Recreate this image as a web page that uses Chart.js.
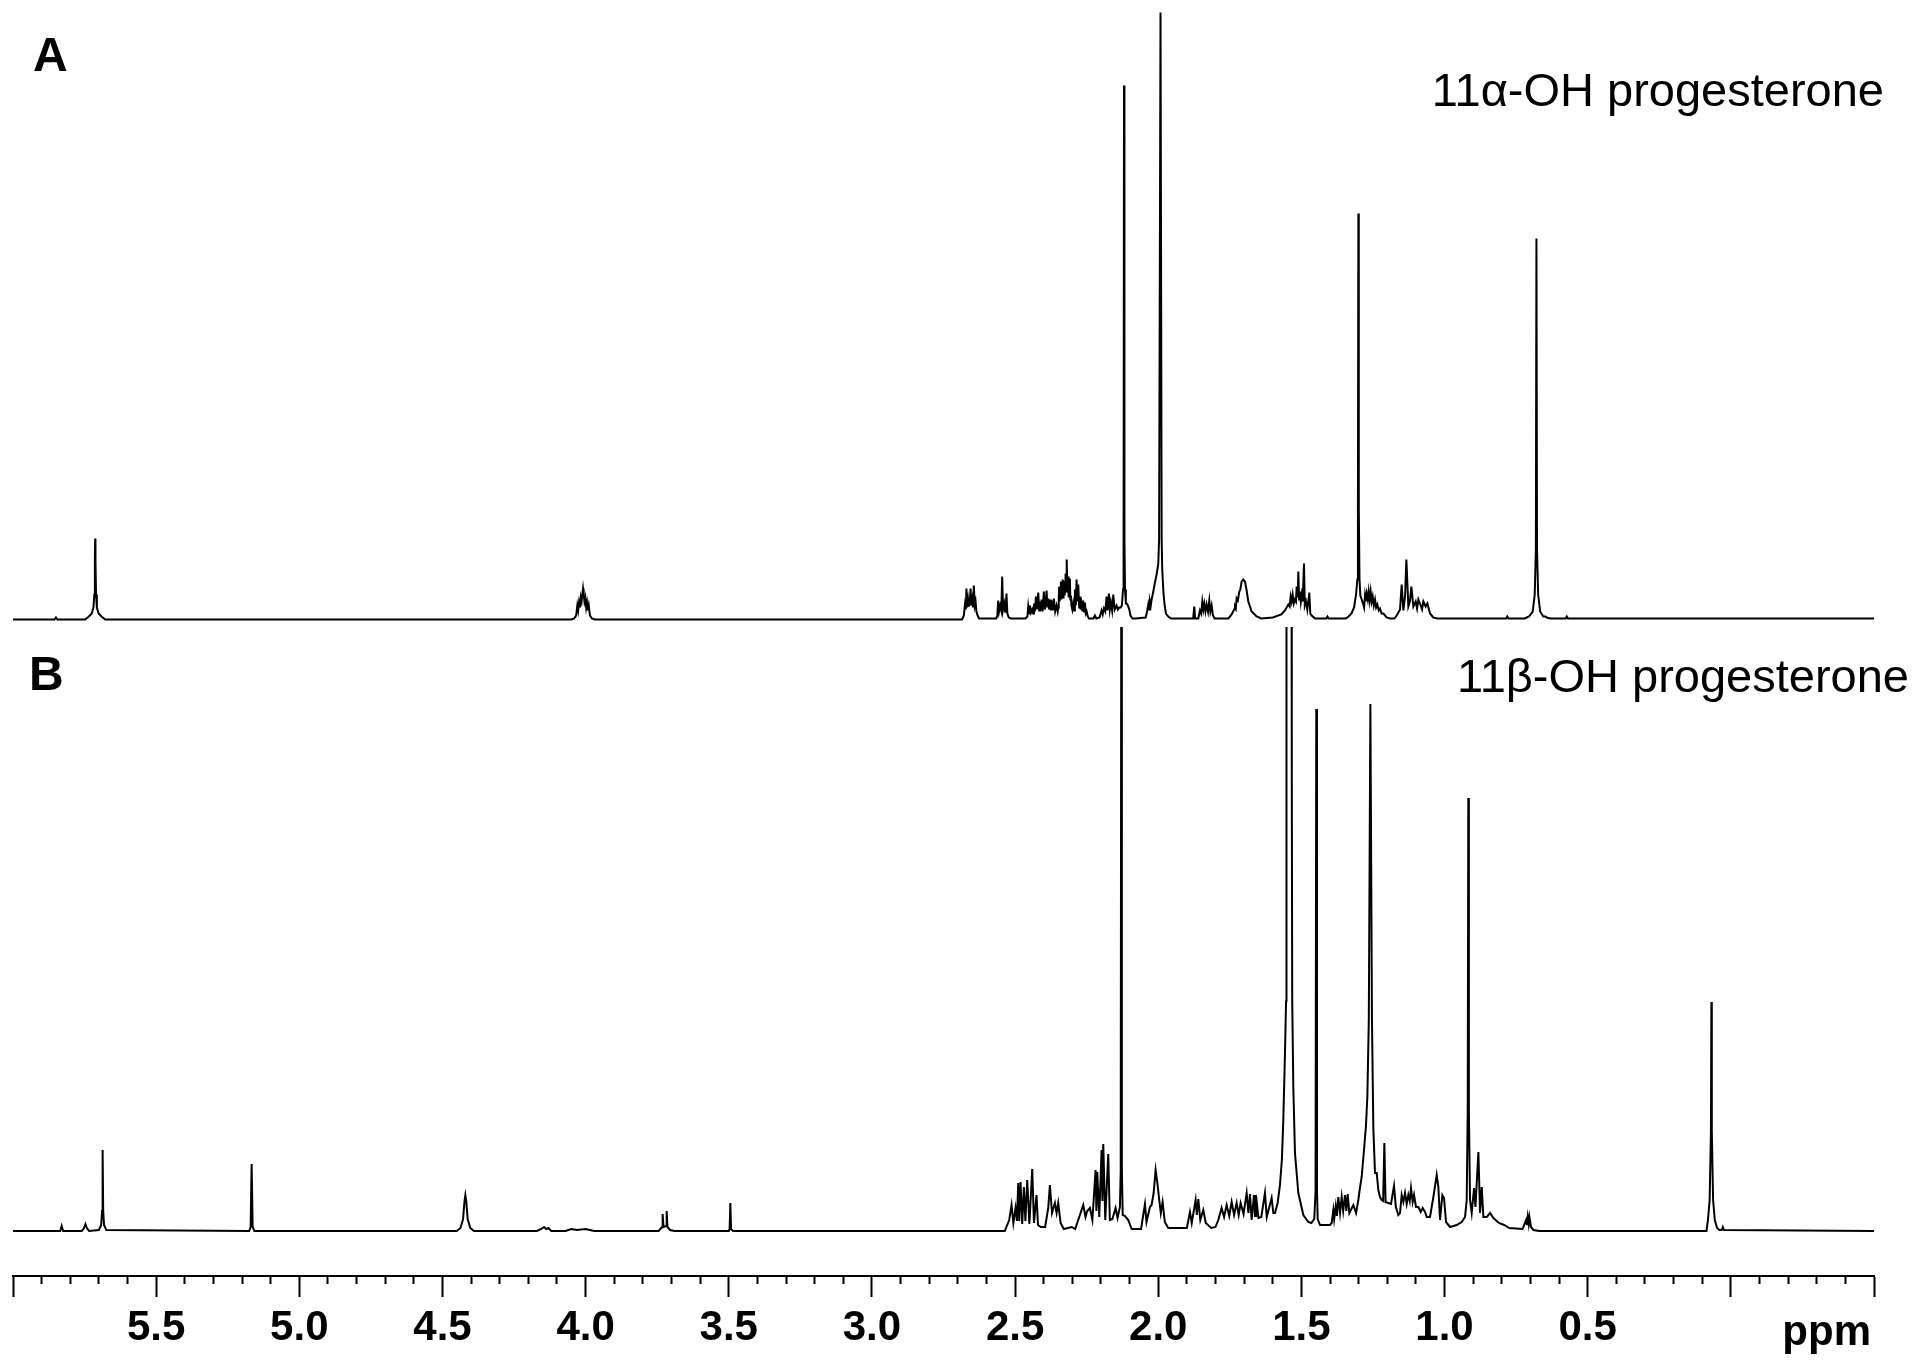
<!DOCTYPE html>
<html>
<head>
<meta charset="utf-8">
<title>1H NMR 11α / 11β-OH progesterone</title>
<script src="https://cdn.jsdelivr.net/npm/chart.js@4.4.1/dist/chart.umd.min.js"></script>
<style>
  html, body { margin: 0; padding: 0; background: #fff; }
  canvas { display: block; }
</style>
</head>
<body>
<canvas id="nmr" width="1920" height="1369"></canvas>
<script>
// spectrum A (11a-OH progesterone), [ppm, intensity]
const olefinA = [[6.0,0],[5.855,0],[5.85,2],[5.845,0],
  [5.748,0],[5.735,3],[5.725,6],[5.719,12],[5.716,25],[5.714,60],[5.713,81],[5.712,60],[5.71,25],[5.707,12],[5.701,6],[5.691,3],[5.678,0]];
const h11A = [[4.05,0],[4.04,1],[4.033,4],[4.029,14],[4.026,9],[4.023,17],[4.02,12],[4.017,22],[4.014,18],[4.011,26],[4.009,31],
  [4.007,26],[4.004,18],[4.001,22],[3.998,12],[3.995,17],[3.992,9],[3.989,14],[3.985,4],[3.978,1],[3.968,0]];
const multA1 = [[2.685,0],[2.679,4],[2.675,15],[2.672,10],[2.67,31],[2.667,12],[2.664,20],[2.661,13],[2.658,18],[2.6555,31],[2.653,14],
  [2.65,20],[2.647,12],[2.644,34],[2.641,14],[2.638,18],[2.635,8],[2.631,4],[2.626,1],
  [2.566,1],[2.562,4],[2.559,19],[2.556,8],[2.552,14],[2.548,9],[2.545,43],[2.542,10],[2.538,16],[2.534,7],[2.53,26],[2.527,6],[2.522,2],[2.515,1],
  [2.464,1],[2.457,3],[2.454,13],[2.451,6],[2.448,14],[2.444,7],[2.44,10],[2.437,6],[2.434,16],[2.431,8],[2.427,23],[2.424,10],[2.419,27],
  [2.416,9],[2.413,18],[2.41,9],[2.4075,20],[2.404,8],[2.3995,28],[2.396,10],[2.393,16],[2.39,29],[2.387,12],[2.384,21],[2.381,10],
  [2.378,20],[2.375,9],[2.3715,19],[2.368,9],[2.3645,21],[2.36,8],[2.355,14],[2.351,8],
  [2.349,12],[2.3475,22],[2.3458,33],[2.3445,18],[2.342,30],[2.34,38],[2.3385,20],[2.336,35],[2.334,40],[2.332,22],[2.3305,34],[2.3283,39],
  [2.3265,24],[2.325,38],[2.3236,46],[2.322,28],[2.3205,40],[2.319,60],[2.3175,30],[2.316,38],[2.3143,43],[2.313,22],[2.311,30],[2.3085,41],
  [2.307,20],[2.305,24],[2.303,14],
  [2.3,10],[2.297,16],[2.294,9],[2.291,30],[2.288,14],[2.2852,40],[2.282,18],[2.2794,35],[2.276,12],[2.2736,23],[2.271,10],[2.268,16],
  [2.265,8],[2.262,19],[2.259,8],[2.256,17],[2.253,6],[2.25,8],[2.246,3],[2.242,1],
  [2.226,1],[2.2212,4],[2.216,1],[2.205,2],[2.1978,9],[2.194,5],[2.1897,11],[2.185,8],[2.1804,23],[2.177,9],[2.1722,26],[2.169,10],
  [2.1653,17],[2.161,9],[2.1571,25],[2.152,10],[2.1455,14],[2.141,10],[2.136,12],[2.131,12]];
const methylA = [[2.127,14],[2.123,30],[2.121,80],[2.1195,534],[2.118,80],[2.116,30],[2.113,16],[2.11,16],[2.106,14],[2.101,10],[2.097,4],
  [2.09,1],[2.08,1],
  [2.044,2],[2.039,8],[2.0348,15],[2.032,10],[2.029,18],[2.026,14],[2.0232,20],[2.02,24],[2.0173,28],[2.0115,37],[2.0057,45],[2.0,55],
  [1.997,80],[1.992,607],[1.988,80],[1.986,50],[1.982,28],[1.978,15],[1.973,6],[1.965,3],[1.955,1]];
const multA2 = [[1.878,1],[1.8741,13],[1.871,1],[1.86,1],[1.8543,9],[1.85,6],[1.8461,18],[1.8425,10],[1.8391,16],[1.835,8],[1.831,15],
  [1.826,8],[1.8217,19],[1.818,8],[1.8135,14],[1.809,4],[1.803,1],
  [1.755,1],[1.7436,5],[1.735,10],[1.732,13],[1.729,11],[1.7262,21],[1.722,19],[1.7168,28],[1.713,30],[1.7087,38],[1.7029,40],
  [1.6971,38],[1.6912,29],[1.6854,18],[1.6738,8],[1.6563,3],[1.64,1],
  [1.6,2],[1.57,5],[1.5573,9],[1.5456,15],[1.541,13],[1.5375,23],[1.534,18],[1.5305,25],[1.5265,16],[1.5224,20],[1.519,18],[1.5165,33],
  [1.513,22],[1.5107,48],[1.508,20],[1.5049,28],[1.502,18],[1.499,25],[1.4955,18],[1.4909,56],[1.488,14],[1.4839,18],[1.4793,10],
  [1.4723,27],[1.469,6],[1.4641,4],[1.4525,1],
  [1.413,1],[1.409,3],[1.405,1],
  [1.345,1],[1.335,3],[1.325,6],[1.316,12],[1.309,25],[1.3045,40],[1.3025,110],[1.301,406],[1.2995,110],[1.297,40],[1.294,24],
  [1.2836,15],[1.281,12],[1.2778,24],[1.275,18],[1.2719,26],[1.268,20],[1.265,28],[1.2615,19],[1.258,28],[1.2545,18],[1.251,23],
  [1.247,14],[1.2428,20],[1.239,12],[1.2347,15],[1.23,9],[1.2254,11],[1.22,6],[1.2137,6],[1.2021,2],[1.1904,1],
  [1.175,1],[1.1671,4],[1.1555,10],[1.1497,35],[1.1438,9],[1.138,23],[1.1333,60],[1.1264,13],[1.121,18],[1.1159,33],[1.1089,13],
  [1.1008,18],[1.096,11],[1.0915,20],[1.0833,14],[1.0785,10],[1.074,18],[1.0659,13],[1.06,16],[1.0507,6],[1.0391,2],[1.025,1]];
const highA = [[0.785,1],[0.781,3],[0.777,1],[0.72,1],[0.705,3],[0.692,8],[0.685,25],[0.681,70],[0.679,381],[0.677,70],[0.673,25],
  [0.666,8],[0.655,3],[0.647,3],[0.643,2],[0.63,1],[0.577,1],[0.573,3],[0.569,1],[-0.5,1]];

// spectrum B (11b-OH progesterone)
const olefinB = [[6.0,0],[5.835,0],[5.83,5],[5.825,0],[5.76,0],[5.752,3],[5.747,7],[5.742,3],[5.734,0],
  [5.7,1],[5.692,6],[5.689,20],[5.687,81],[5.685,20],[5.682,6],[5.674,1],
  [5.175,0],[5.17,4],[5.1665,67],[5.163,4],[5.157,0]];
const midB = [[4.45,0],[4.437,3],[4.428,12],[4.423,30],[4.42,36],[4.417,30],[4.412,12],[4.403,3],[4.39,0],
  [4.17,0],[4.155,2],[4.145,4],[4.138,2],[4.13,3],[4.12,0],[4.07,0],[4.05,2],[4.03,1],[4.0,2],[3.97,0],
  [3.745,0],[3.733,4],[3.731,17],[3.728,4],[3.719,5],[3.717,20],[3.714,4],[3.705,1],[3.69,0],
  [3.5,0],[3.497,2],[3.4945,28],[3.492,2],[3.485,0]];
const multB1 = [[2.536,0],[2.5205,11],[2.5123,26],[2.506,8],[2.4984,23],[2.4935,10],[2.489,48],[2.4855,10],[2.4809,49],[2.475,7],
  [2.4692,44],[2.464,10],[2.4576,51],[2.45,7],[2.4401,62],[2.434,8],[2.425,36],[2.42,6],[2.41,4],[2.395,4],[2.3842,23],[2.3784,46],
  [2.371,18],[2.3609,28],[2.355,18],[2.3493,28],[2.341,8],[2.33,2],[2.302,4],[2.29,2],[2.2678,21],[2.2619,26],[2.254,14],[2.248,20],
  [2.2386,23],[2.23,11],[2.2188,61],[2.216,20],[2.213,59],[2.206,14],[2.1978,81],[2.195,30],[2.192,87],[2.185,11],[2.1746,77],
  [2.169,11],[2.16,12],[2.1489,23],[2.142,13],[2.1338,24],[2.131,60],[2.129,700],[2.127,60],[2.124,16],[2.116,15],[2.1047,11],
  [2.093,2],[2.06,2],[2.0464,27],[2.041,9],[2.029,24],[2.0232,26],[2.016,38],[2.0092,61],[2.0034,49],[1.9964,31],[1.991,18],
  [1.9847,29],[1.977,9],[1.965,3],[1.9,3],[1.8892,19],[1.883,8],[1.8694,31],[1.865,16],[1.8601,32],[1.853,11],[1.8427,21],
  [1.834,8],[1.815,3],[1.8,4],[1.7902,11],[1.7786,23],[1.77,14],[1.7611,26],[1.752,15],[1.7436,29],[1.735,16],[1.7262,28],
  [1.719,16],[1.7122,28],[1.702,17],[1.6912,38],[1.685,18],[1.6796,37],[1.6738,11],[1.6656,36],[1.662,15],[1.6586,36],[1.65,13],
  [1.64,14],[1.6272,38],[1.621,14],[1.6039,33],[1.598,18]];
const methylB = [[1.5922,18],[1.583,28],[1.5748,46],[1.568,72],[1.5631,111],[1.5573,178],[1.5535,230],[1.5525,450],[1.5515,700],
  [1.543,1200],[1.5345,700],[1.5335,450],[1.532,230],[1.5282,144],[1.5224,78],[1.5107,38],[1.4932,16],[1.4758,9],[1.465,8],[1.455,12],
  [1.4505,40],[1.448,522],[1.4455,40],[1.443,12],[1.435,6],[1.4,6],[1.3943,8],[1.3884,21],[1.3855,12],
  [1.38,25],[1.376,15],[1.371,34],[1.365,18],[1.3593,34],[1.354,20],[1.3477,36],[1.343,20],[1.3383,37],[1.3325,18],[1.3186,26],
  [1.309,18],[1.3011,31],[1.296,42],[1.2894,54],[1.2813,81],[1.2745,105],[1.2696,134],[1.2645,211],[1.259,527],
  [1.2535,211],[1.2487,103],[1.2429,58],[1.237,58],[1.2312,41],[1.2255,34],[1.2196,31],[1.2145,30],[1.2102,88],
  [1.206,29],[1.1963,28],[1.187,27],[1.1765,45],[1.17,24],[1.1614,16],[1.1555,18],[1.1497,36],[1.1438,29],[1.138,38],[1.1322,27],
  [1.1264,36],[1.1215,30],[1.1171,43],[1.1113,29],[1.1066,36],[1.0996,24],[1.0914,24],[1.0832,19],[1.0763,23],[1.0681,19],
  [1.0623,14],[1.0507,14],[1.039,34],[1.0274,56],[1.0216,44],[1.0158,11],[1.0076,36],[1.0018,33],[0.9948,9],[0.9808,4],[0.9575,6],
  [0.94,9],[0.9284,14],[0.9226,31],[0.919,120],[0.917,433],[0.915,120],[0.9109,31],[0.9051,18],[0.8969,43],[0.892,24],[0.8818,79],
  [0.876,18],[0.8701,44],[0.8643,14],[0.8527,14],[0.841,18],[0.8294,13],[0.81,8],[0.7919,6],[0.7744,3],[0.728,2],[0.7246,4],
  [0.7152,11],[0.712,6],[0.7094,14],[0.706,7],[0.7036,14],[0.698,4],[0.6896,1],[0.67,0]];
const highB = [[0.085,0],[0.08,11],[0.074,31],[0.0695,100],[0.068,229],[0.0665,100],[0.062,31],[0.056,11],[0.048,3],[0.04,1],
  [0.032,1],[0.028,4],[0.024,1],[-0.5,0]];

const traceA = [].concat(olefinA, h11A, multA1, methylA, multA2, highA);
const traceB = [].concat(olefinB, midB, multB1, methylB, highB);

const majorTicks = [5.5, 5.0, 4.5, 4.0, 3.5, 3.0, 2.5, 2.0, 1.5, 1.0, 0.5];
const panelLetters = ['A', 'B'];
const compoundNames = ['11\u03b1-OH progesterone', '11\u03b2-OH progesterone'];
const axisUnit = 'ppm';

const FONT = '"Liberation Sans", Arial, Helvetica, sans-serif';

function isHalf(v) {
  const d = v * 2;
  return Math.abs(d - Math.round(d)) < 1e-6;
}

const panelText = {
  id: 'panelText',
  afterDraw(chart) {
    const c = chart.ctx;
    c.save();
    c.fillStyle = '#000';
    c.textBaseline = 'alphabetic';
    c.textAlign = 'left';
    c.font = 'bold 48px ' + FONT;
    c.fillText(panelLetters[0], 33, 71);
    c.fillText(panelLetters[1], 29, 690);
    c.textAlign = 'right';
    c.font = '47px ' + FONT;
    c.fillText(compoundNames[0], 1884, 106);
    c.fillText(compoundNames[1], 1909, 692);
    c.font = 'bold 42px ' + FONT;
    c.fillText(axisUnit, chart.chartArea.right - 3, 1345);
    c.restore();
  }
};

const ctx = document.getElementById('nmr').getContext('2d');

new Chart(ctx, {
  type: 'line',
  data: {
    datasets: [{
      label: compoundNames[0],
      data: traceA,
      yAxisID: 'yA',
      borderColor: '#000',
      borderWidth: 2,
      pointRadius: 0,
      tension: 0,
      fill: false
    }, {
      label: compoundNames[1],
      data: traceB,
      yAxisID: 'yB',
      borderColor: '#000',
      borderWidth: 2,
      pointRadius: 0,
      tension: 0,
      fill: false,
      clip: { left: 0, right: 0, bottom: 0, top: -627 }   // B panel top
    }]
  },
  options: {
    responsive: false,
    animation: false,
    events: [],
    layout: { padding: { left: 13, right: 46, top: 0, bottom: 0 } },
    plugins: {
      legend: { display: false },
      tooltip: { enabled: false }
    },
    scales: {
      x: {
        type: 'linear',
        position: 'bottom',
        reverse: true,
        min: -0.5,
        max: 6.0,
        border: { display: true, color: '#000', width: 2 },
        grid: {
          drawOnChartArea: false,
          drawTicks: true,
          tickLength: 21,
          tickWidth: 2,
          tickColor: '#000',
          tickBorderDash: (c) => (c.tick && isHalf(c.tick.value)) ? [] : [7, 200]
        },
        ticks: {
          stepSize: 0.1,
          autoSkip: false,
          maxRotation: 0,
          minRotation: 0,
          padding: 6,
          color: '#000',
          font: { family: FONT, size: 42, weight: 'bold' },
          callback: (v) => {
            const r = Math.round(v * 10) / 10;
            return majorTicks.includes(r) ? r.toFixed(1) : '';
          }
        },
        afterFit: (s) => { s.height = 93; }
      },
      yA: { type: 'linear', display: false, min: -656.5, max: 619.5 },
      yB: { type: 'linear', display: false, min: -45, max: 1231 }
    }
  },
  plugins: [panelText]
});
</script>
</body>
</html>
